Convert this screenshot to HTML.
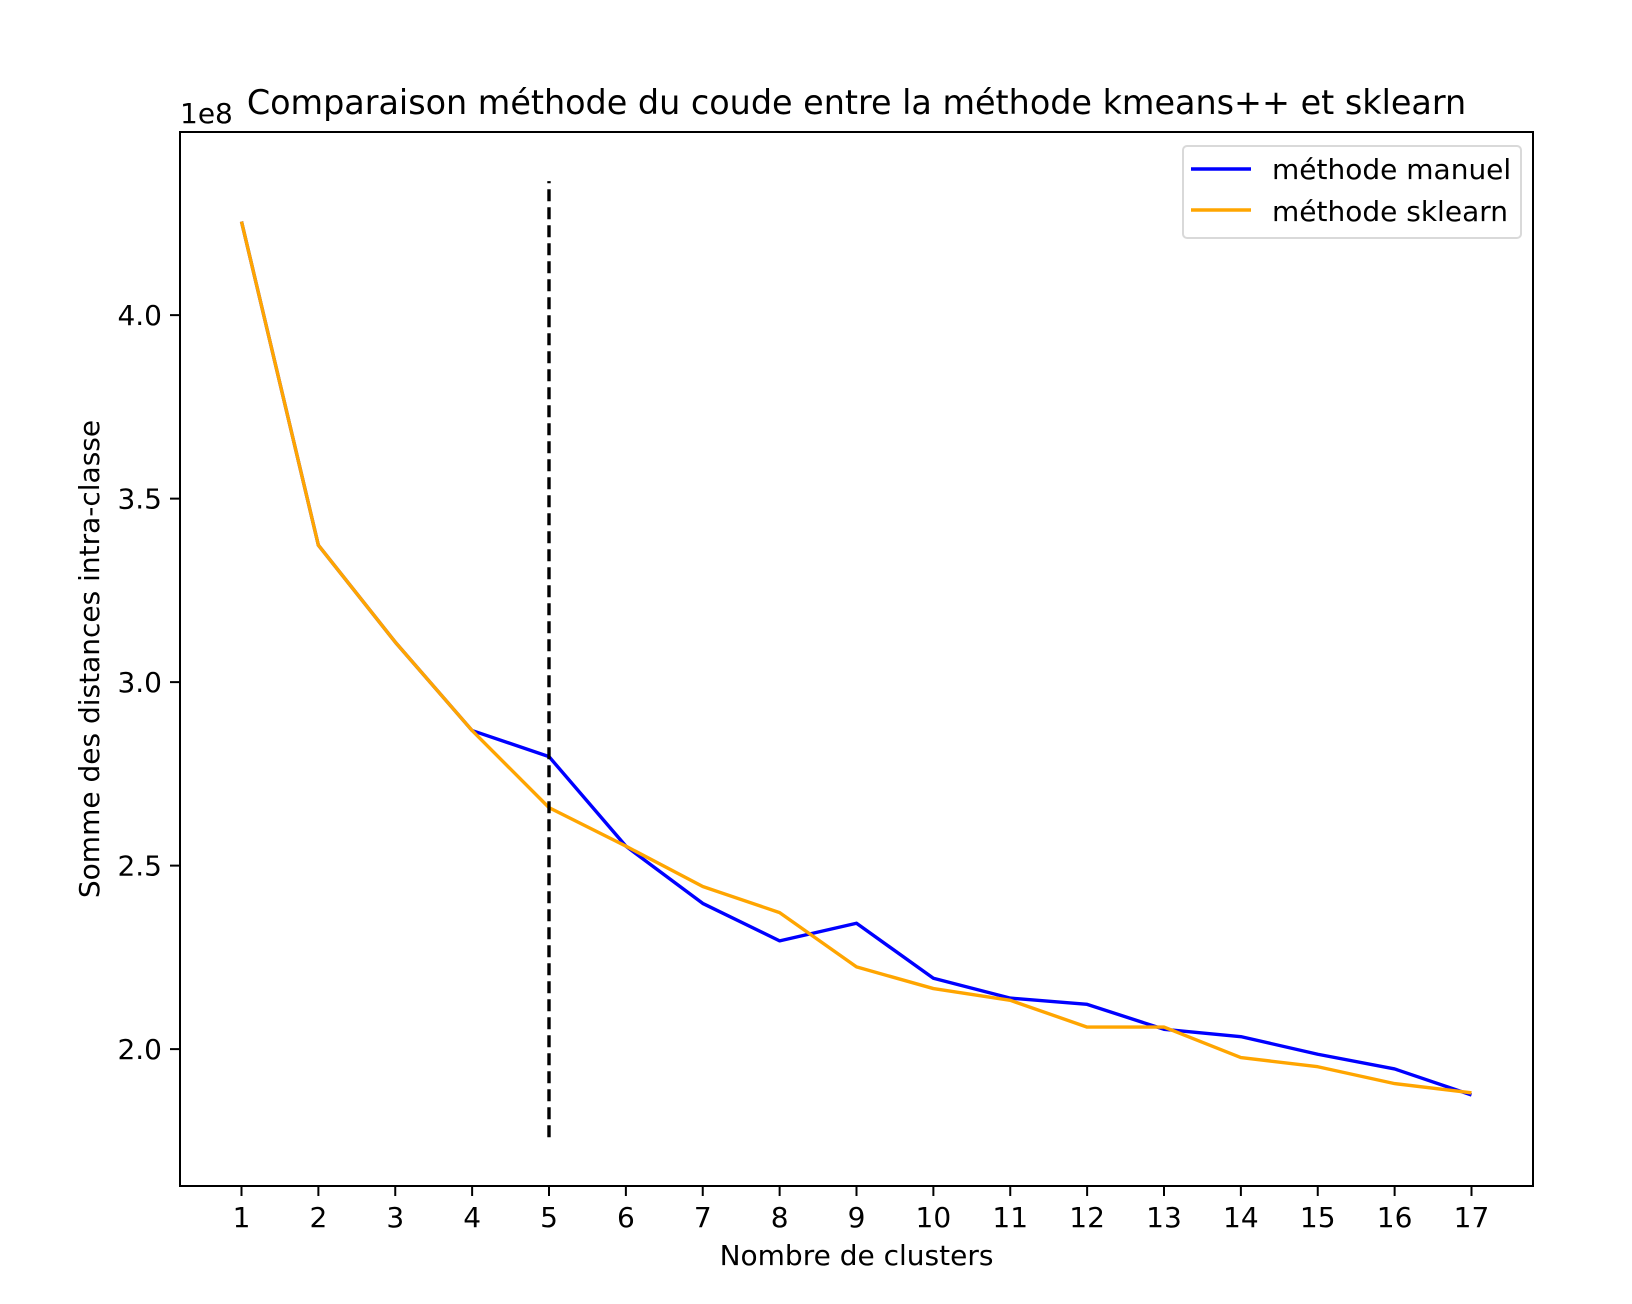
<!DOCTYPE html>
<html><head><meta charset="utf-8"><style>body{margin:0;background:#fff}svg{display:block}text{font-family:"DejaVu Sans","Liberation Sans",sans-serif;fill:#000}</style></head>
<body>
<svg id="chart" width="1632" height="1304" viewBox="0 0 1632 1304" xmlns="http://www.w3.org/2000/svg">
<rect width="1632" height="1304" fill="#fff"/>
<g id="plot"></g>
</svg>
<script>
const clusters=[1,2,3,4,5,6,7,8,9,10,11,12,13,14,15,16,17];
const manualValues=[4.255,3.373,3.109,2.868,2.797,2.553,2.397,2.295,2.343,2.193,2.139,2.122,2.054,2.034,1.986,1.946,1.875];
const sklearnValues=[4.255,3.373,3.109,2.868,2.658,2.553,2.443,2.372,2.224,2.165,2.133,2.060,2.060,1.977,1.952,1.906,1.881];
const yTicks=[2.0,2.5,3.0,3.5,4.0];
const elbowK=5;
const vlineRange=[1.76,4.365];

const L=180,R=1533,T=132,B=1186;
const xMin=0.2,xMax=17.8,yMin=1.627,yMax=4.499;
const X=v=>L+(v-xMin)/(xMax-xMin)*(R-L);
const Y=v=>B-(v-yMin)/(yMax-yMin)*(B-T);
const NS='http://www.w3.org/2000/svg';
const g=document.getElementById('plot');
function mk(tag,attrs,parent){const e=document.createElementNS(NS,tag);for(const k in attrs)e.setAttribute(k,attrs[k]);(parent||g).appendChild(e);return e;}

clusters.forEach(c=>{
  const t=mk('line',{x1:X(c),x2:X(c),y1:B,y2:B+10,stroke:'#000','stroke-width':2});
  
  
  const l=mk('text',{x:X(c),y:1227,'font-size':28,'text-anchor':'middle'});
  l.textContent=c;
  
  
});
yTicks.forEach(v=>{
  const t=mk('line',{x1:L-10,x2:L,y1:Y(v),y2:Y(v),stroke:'#000','stroke-width':2});
  
  
  const l=mk('text',{x:L-18,y:Y(v)+10,'font-size':28,'text-anchor':'end'});
  l.textContent=v.toFixed(1);
  
  
});

function series(vals,color,name){
  const p=mk('polyline',{points:clusters.map((c,i)=>X(c)+','+Y(vals[i])).join(' '),fill:'none',stroke:color,'stroke-width':3.4,'stroke-linejoin':'round'});
  
  
}
series(manualValues,'#0000ff','manual-line');
series(sklearnValues,'#ffa500','sklearn-line');

const vl=mk('line',{x1:X(elbowK),x2:X(elbowK),y1:Y(vlineRange[0]),y2:Y(vlineRange[1]),stroke:'#000','stroke-width':3.4,'stroke-dasharray':'12 6'});



const frame=mk('rect',{x:L,y:T,width:R-L,height:B-T,fill:'none',stroke:'#000','stroke-width':2});



const lg=mk('g',{});


mk('rect',{x:1183,y:146,width:338,height:92,rx:4,fill:'#fff','fill-opacity':0.8,stroke:'#d9d9d9','stroke-width':2},lg);
const e1=mk('line',{x1:1191,x2:1251,y1:169,y2:169,stroke:'#0000ff','stroke-width':3.4},lg);


const t1=mk('text',{x:1272,y:179,'font-size':28},lg);t1.textContent='méthode manuel';


const e2=mk('line',{x1:1191,x2:1251,y1:210,y2:210,stroke:'#ffa500','stroke-width':3.4},lg);


const t2=mk('text',{x:1272,y:221,'font-size':28},lg);t2.textContent='méthode sklearn';



const ti=mk('text',{x:(L+R)/2,y:114,'font-size':33.4,'text-anchor':'middle'});
ti.textContent='Comparaison méthode du coude entre la méthode kmeans++ et sklearn';


const oe=mk('text',{x:L,y:123,'font-size':28});oe.textContent='1e8';


const xt=mk('text',{x:(L+R)/2,y:1265,'font-size':28,'text-anchor':'middle'});xt.textContent='Nombre de clusters';


const yt=mk('text',{x:0,y:0,'font-size':28,'text-anchor':'middle',transform:'translate(99,'+((T+B)/2)+') rotate(-90)'});yt.textContent='Somme des distances intra-classe';


</script>
</body></html>
